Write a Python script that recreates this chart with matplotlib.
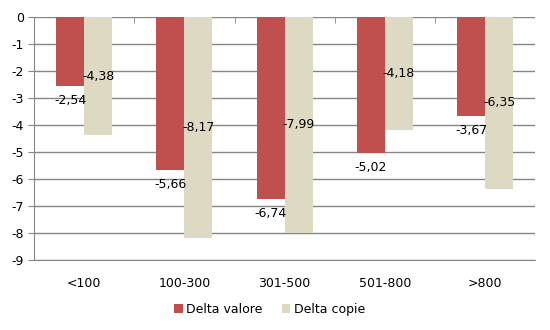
import numpy as np
import matplotlib
matplotlib.use('Agg')
import matplotlib.pyplot as plt

categories = ['<100', '100-300', '301-500', '501-800', '>800']
delta_valore = [-2.54, -5.66, -6.74, -5.02, -3.67]
delta_copie = [-4.38, -8.17, -7.99, -4.18, -6.35]
series_names = ['Delta valore', 'Delta copie']

plt.rcParams['axes.unicode_minus'] = False
plt.rcParams['font.family'] = ['DejaVu Sans']

def fmt(v):
	return ('%.2f' % v).replace('.', ',')

fig = plt.figure(figsize=(5.5, 3.3), dpi=100)
ax = fig.add_axes([0.062, 0.212, 0.911, 0.736])

x = np.arange(len(categories))
w = 0.28
red = '#C0504D'
beige = '#DDD9C3'
grid = '#868686'
fs = 9

ax.bar(x - w/2, delta_valore, w, color=red, label=series_names[0], zorder=3)
ax.bar(x + w/2, delta_copie, w, color=beige, label=series_names[1], zorder=3)

# labels: valore below bar end, copie at bar middle
for xi, v in zip(x, delta_valore):
	ax.text(xi - w/2, v - 0.3, fmt(v), ha='center', va='top', fontsize=fs, zorder=4)
for xi, v in zip(x, delta_copie):
	ax.text(xi + w/2, v/2, fmt(v), ha='center', va='center', fontsize=fs, zorder=4)

ax.set_xlim(-0.5, len(categories) - 0.5)
ax.set_ylim(-9, 0)
ax.set_yticks(np.arange(-9, 1, 1))
ax.yaxis.grid(True, color=grid, linewidth=1, zorder=0)
ax.set_axisbelow(True)

ax.set_xticks(x)
ax.set_xticklabels(categories, fontsize=fs)
ax.tick_params(axis='x', which='major', length=0, pad=12)
ax.set_xticks(np.arange(0.5, len(categories) - 0.5, 1), minor=True)
ax.tick_params(axis='x', which='minor', top=True, bottom=False, direction='in', length=4, color=grid)
ax.tick_params(axis='y', length=4, color=grid, labelsize=fs)

for s in ['top', 'right']:
	ax.spines[s].set_visible(False)
ax.spines['left'].set_color(grid)
ax.spines['bottom'].set_color(grid)

ax.legend(loc='upper center', bbox_to_anchor=(0.47, -0.13), ncol=2, frameon=False,
	fontsize=fs, handlelength=0.7, handleheight=0.7, columnspacing=1.5, handletextpad=0.3)

fig.savefig('out.png', dpi=100)
